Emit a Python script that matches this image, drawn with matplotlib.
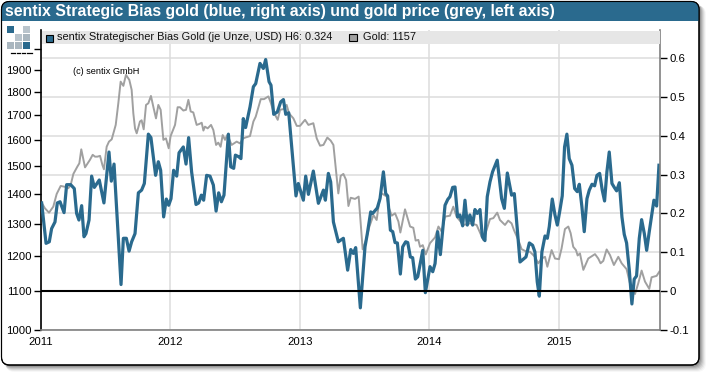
import numpy as np
import matplotlib
matplotlib.use("Agg")
import matplotlib.pyplot as plt
from matplotlib.patches import FancyBboxPatch, Rectangle

plt.rcParams['font.family'] = ['Liberation Sans', 'DejaVu Sans']

TITLE = "sentix Strategic Bias gold (blue, right axis) und gold price (grey, left axis)"
LEG_BIAS = "sentix Strategischer Bias Gold (je Unze, USD) H6: 0.324"
LEG_GOLD = "Gold: 1157"
COPY = "(c) sentix GmbH"
year_ticks = [2011, 2012, 2013, 2014, 2015]
gold_ticks = [1000, 1100, 1200, 1300, 1400, 1500, 1600, 1700, 1800, 1900, 2000]
bias_ticks = [-0.1, 0, 0.1, 0.2, 0.3, 0.4, 0.5, 0.6]
bias_labels = ["-0.1", "0", "0.1", "0.2", "0.3", "0.4", "0.5", "0.6"]

bias_t = [.005,.039,.064,.082,.108,.126,.147,.178,.198,.229,.257,.275,.293,.314,.332,.347,.371,.391,.412,.450,.486,.525,.543,.564,.618,.636,.659,.680,.700,.726,.752,.777,.798,.829,.849,.885,.906,.924,.947,.968,.986,1.004,1.024,1.048,1.066,1.099,1.120,1.140,1.163,1.197,1.218,1.238,1.256,1.279,1.305,1.331,1.352,1.372,1.393,1.413,1.447,1.465,1.488,1.501,1.526,1.544,1.562,1.580,
1.614,1.640,1.658,1.691,1.717,1.735,1.761,1.776,1.797,1.825,1.851,1.872,1.890,1.913,1.969,1.987,2.026,2.044,2.065,2.103,2.142,2.181,2.196,2.219,2.237,2.258,2.296,2.335,2.368,2.392,2.412,2.430,2.466,2.502,2.520,2.546,2.561,2.597,2.618,2.644,2.662,2.677,2.698,2.716,2.734,2.752,2.775,2.793,2.816,2.832,2.852,2.870,2.891,2.909,2.948,2.968,3.004,3.025,3.043,3.063,3.084,3.120,3.141,
3.158,3.179,3.197,3.217,3.235,3.256,3.274,3.292,3.312,3.333,3.351,3.369,3.390,3.408,3.428,3.446,3.467,3.487,3.523,3.557,3.578,3.601,3.634,3.655,3.699,3.745,3.771,3.796,3.814,3.832,3.848,3.868,3.892,3.910,3.925,3.948,3.969,3.987,4.007,4.025,4.043,4.061,4.079,4.100,4.121,4.141,4.157,4.177,4.195,4.216,4.234,4.255,4.275,4.293,4.314,4.334,4.352,4.370,4.388,4.409,4.427,4.445,4.466,4.486,4.504,4.522,4.543,4.563,4.581,4.599,4.620,4.638,4.659,4.677,4.697,4.733,4.754,4.772]
bias_v = [.227,.123,.127,.161,.178,.227,.230,.202,.274,.274,.264,.200,.183,.220,.140,.148,.183,.296,.267,.286,.227,.358,.283,.327,.017,.136,.136,.103,.127,.148,.253,.260,.277,.404,.395,.298,.333,.311,.191,.237,.221,.238,.311,.296,.356,.371,.327,.395,.307,.223,.227,.247,.234,.298,.296,.273,.206,.253,.230,.247,.404,.320,.316,.350,.346,.341,.444,.421,
.474,.526,.534,.586,.573,.596,.539,.530,.455,.461,.487,.493,.455,.459,.245,.277,.234,.296,.249,.309,.226,.260,.234,.303,.281,.178,.127,.136,.054,.107,.097,.112,-.043,.114,.148,.204,.200,.214,.238,.307,.251,.245,.157,.153,.125,.124,.044,.114,.127,.125,.088,.086,.031,.037,.105,-.004,.063,.050,.071,.153,.094,.221,.236,
.243,.267,.268,.191,.196,.168,.234,.170,.196,.170,.210,.200,.210,.140,.130,.243,.281,.307,.337,.238,.213,.304,.247,.251,.075,.088,.124,.118,.101,.024,-.013,.101,.142,.136,.166,.237,.196,.170,.208,.245,.371,.404,.341,.324,.264,.256,.275,.217,.153,.238,.260,.275,.271,.298,.303,.260,.232,.307,.358,.277,.267,.258,.279,.191,.146,.124,.054,-.033,.031,.039,.136,.184,.148,.105,.153,.234,.219,.324]

gold_t = [.005,.031,.062,.095,.121,.152,.185,.211,.229,.250,.281,.296,.311,.340,.378,.399,.417,.435,.456,.474,.486,.507,.525,.546,.577,.597,.615,.636,.656,.682,.700,.713,.726,.739,.764,.777,.793,.811,.829,.849,.867,.888,.906,.924,.945,.965,.986,1.001,1.035,1.055,1.073,1.099,1.120,1.138,1.156,1.176,1.202,1.223,1.241,1.254,1.266,1.287,1.313,1.331,1.352,1.369,1.387,1.403,1.421,1.439,1.472,1.511,1.537,1.562,1.583,
1.614,1.640,1.658,1.697,1.722,1.756,1.776,1.794,1.828,1.846,1.872,1.897,1.915,1.949,1.975,2.000,2.039,2.065,2.103,2.129,2.155,2.181,2.211,2.237,2.258,2.296,2.314,2.335,2.356,2.374,2.392,2.425,2.453,2.484,2.510,2.536,2.567,2.592,2.613,2.631,2.670,2.688,2.708,2.734,2.760,2.775,2.811,2.850,2.875,2.893,2.914,2.927,2.948,2.971,3.004,3.043,3.069,3.094,3.120,3.158,
3.184,3.209,3.261,3.312,3.364,3.415,3.441,3.467,3.493,3.523,3.544,3.583,3.608,3.634,3.652,3.686,3.711,3.750,3.776,3.814,3.840,3.866,3.892,3.910,3.943,3.969,4.000,4.020,4.046,4.072,4.090,4.110,4.131,4.144,4.162,4.188,4.226,4.278,4.303,4.321,4.342,4.368,4.394,4.424,4.458,4.484,4.522,4.548,4.587,4.612,4.638,4.664,4.697,4.715,4.754,4.775]
gold_v = [1369,1350,1336,1356,1399,1427,1424,1419,1430,1470,1497,1509,1562,1494,1522,1541,1534,1534,1537,1503,1487,1572,1592,1601,1659,1750,1846,1827,1877,1854,1809,1707,1645,1625,1673,1678,1641,1743,1750,1782,1736,1686,1743,1722,1599,1605,1566,1614,1659,1733,1733,1719,1722,1765,1715,1711,1659,1663,1668,1636,1652,1645,1659,1638,1579,1588,1572,1618,1599,1618,1579,1592,1585,1605,1609,
1614,1673,1693,1768,1768,1780,1750,1715,1680,1722,1725,1743,1707,1686,1655,1655,1680,1659,1666,1605,1576,1579,1608,1596,1579,1401,1463,1470,1448,1358,1386,1382,1390,1220,1249,1291,1328,1312,1378,1401,1390,1350,1326,1334,1307,1272,1347,1291,1287,1247,1249,1228,1233,1205,1239,1257,1291,1275,1323,1326,
1356,1323,1296,1301,1296,1249,1280,1315,1318,1336,1312,1296,1310,1301,1280,1249,1221,1213,1213,1198,1179,1193,1198,1169,1218,1193,1191,1223,1283,1291,1270,1228,1218,1202,1208,1160,1193,1206,1193,1179,1186,1220,1203,1174,1198,1179,1162,1122,1093,1122,1158,1127,1107,1139,1143,1155]

BLUE = "#2a6a8e"
GREY = "#a0a0a0"
W, H = 710, 376
fig = plt.figure(figsize=(W/100, H/100), dpi=100, facecolor="white")

# frame layer in pixel coordinates
bg = fig.add_axes([0, 0, 1, 1], zorder=0)
bg.set_xlim(0, W); bg.set_ylim(H, 0); bg.axis("off")
for i, a in zip(range(7, 0, -1), [.03, .05, .07, .09, .11, .13, .15]):
    bg.add_patch(FancyBboxPatch((2 + i/2, 2 + i/2), 697 + i/2, 363 + i/2,
                 boxstyle="round,pad=0,rounding_size=9", fc="black", ec="none", alpha=a))
panel = FancyBboxPatch((1.5, 1.5), 697.5, 363.5, boxstyle="round,pad=0,rounding_size=8",
                       fc="white", ec="black", lw=0.8, zorder=2)
bg.add_patch(panel)
bar = Rectangle((1.5, 1), 697.5, 20, fc=BLUE, ec="none", zorder=3)
bg.add_patch(bar)
bar.set_clip_path(panel)
bg.add_patch(FancyBboxPatch((1.5, 1.5), 697.5, 363.5, boxstyle="round,pad=0,rounding_size=8",
                            fc="none", ec="black", lw=0.8, zorder=4))
bg.text(5, 11.5, TITLE, color="white", fontsize=11.4, fontweight="bold", va="center", ha="left", zorder=5)

L, R, T, B = 41, 660, 30, 330
pos = [L/W, 1 - B/H, (R - L)/W, (B - T)/H]
xlim = (2011, 2015.78)
bias_lim = (-0.1, 0.672)
gold_lim = (1000, 2097)

ax_grid = fig.add_axes(pos, zorder=1)
ax_grid.set_xlim(*xlim); ax_grid.set_ylim(*bias_lim)
ax_grid.set_xticks(year_ticks); ax_grid.set_yticks(bias_ticks)
ax_grid.grid(True, color="#dcdcdc", lw=1.1)
ax_grid.set_axisbelow(True)
ax_grid.tick_params(left=False, bottom=False, labelleft=False, labelbottom=False)
for s in ax_grid.spines.values():
    s.set_visible(False)

ax_gold = fig.add_axes(pos, zorder=2)
ax_gold.patch.set_visible(False)
ax_gold.set_yscale("log")
ax_gold.set_xlim(*xlim); ax_gold.set_ylim(*gold_lim)
ax_gold.plot(2011 + np.array(gold_t), gold_v, color=GREY, lw=1.4, solid_joinstyle="round")
ax_gold.set_yticks(gold_ticks)
ax_gold.set_yticklabels([str(v) for v in gold_ticks[:-1]] + [""])
ax_gold.minorticks_off()
ax_gold.set_xticks(year_ticks)
ax_gold.set_xticklabels([str(y) for y in year_ticks])
ax_gold.tick_params(axis="y", length=5, width=1, color="black", labelsize=8.2, pad=2)
ax_gold.tick_params(axis="x", length=0, labelsize=8.2, pad=5)
for s in ("top", "right"):
    ax_gold.spines[s].set_visible(False)
ax_gold.spines["left"].set_color("black"); ax_gold.spines["left"].set_linewidth(1.2)
ax_gold.spines["bottom"].set_color("#808080"); ax_gold.spines["bottom"].set_linewidth(1.2)

ax_bias = fig.add_axes(pos, zorder=3)
ax_bias.patch.set_visible(False)
ax_bias.set_xlim(*xlim); ax_bias.set_ylim(*bias_lim)
ax_bias.plot(2011 + np.array(bias_t), bias_v, color=BLUE, lw=2.3, solid_joinstyle="round")
ax_bias.axhline(0, color="black", lw=1.5, zorder=5)
ax_bias.set_xticks([])
ax_bias.yaxis.tick_right()
ax_bias.set_yticks(bias_ticks); ax_bias.set_yticklabels(bias_labels)
ax_bias.tick_params(axis="y", length=5, width=1, color="black", labelsize=8.2, pad=2)
for s in ("top", "left", "bottom"):
    ax_bias.spines[s].set_visible(False)
ax_bias.spines["right"].set_color("#808080"); ax_bias.spines["right"].set_linewidth(1.2)

# overlay: legend strip, note, logo
ov = fig.add_axes([0, 0, 1, 1], zorder=4)
ov.set_xlim(0, W); ov.set_ylim(H, 0); ov.axis("off")
ov.add_patch(Rectangle((L + 1, T + 1), R - L - 1, 13, fc="#e6e6e6", ec="none"))
ov.add_patch(Rectangle((46, 34.5), 7, 7, fc=BLUE, ec="black", lw=0.8))
ov.text(57, 37.5, LEG_BIAS, fontsize=7.9, va="center", ha="left", color="#111111")
ov.add_patch(Rectangle((349, 34), 8, 7, fc=GREY, ec="black", lw=0.8))
ov.text(363, 37.5, LEG_GOLD, fontsize=7.9, va="center", ha="left", color="#111111")
ov.text(73, 71, COPY, fontsize=6.6, va="center", ha="left", color="black")

logo = [(7, 26, BLUE), (23, 26, "#b9c4cc"), (15, 34, "#b9c4cc"), (23, 34, "#a9b6bf"),
        (7, 42, "#a9b6bf"), (15, 42, "#a9b6bf"), (23, 42, BLUE)]
ov.add_patch(Rectangle((4, 23), 28, 29, fc="white", ec="none"))
for x0, y0, c in logo:
    ov.add_patch(Rectangle((x0, y0), 7, 7, fc=c, ec="none"))
for x0, x1 in [(11, 15), (17, 20), (22, 25), (27, 32)]:
    ov.plot([x0, x1], [53, 53], color="black", lw=0.9)

fig.savefig("out.png", dpi=100)
